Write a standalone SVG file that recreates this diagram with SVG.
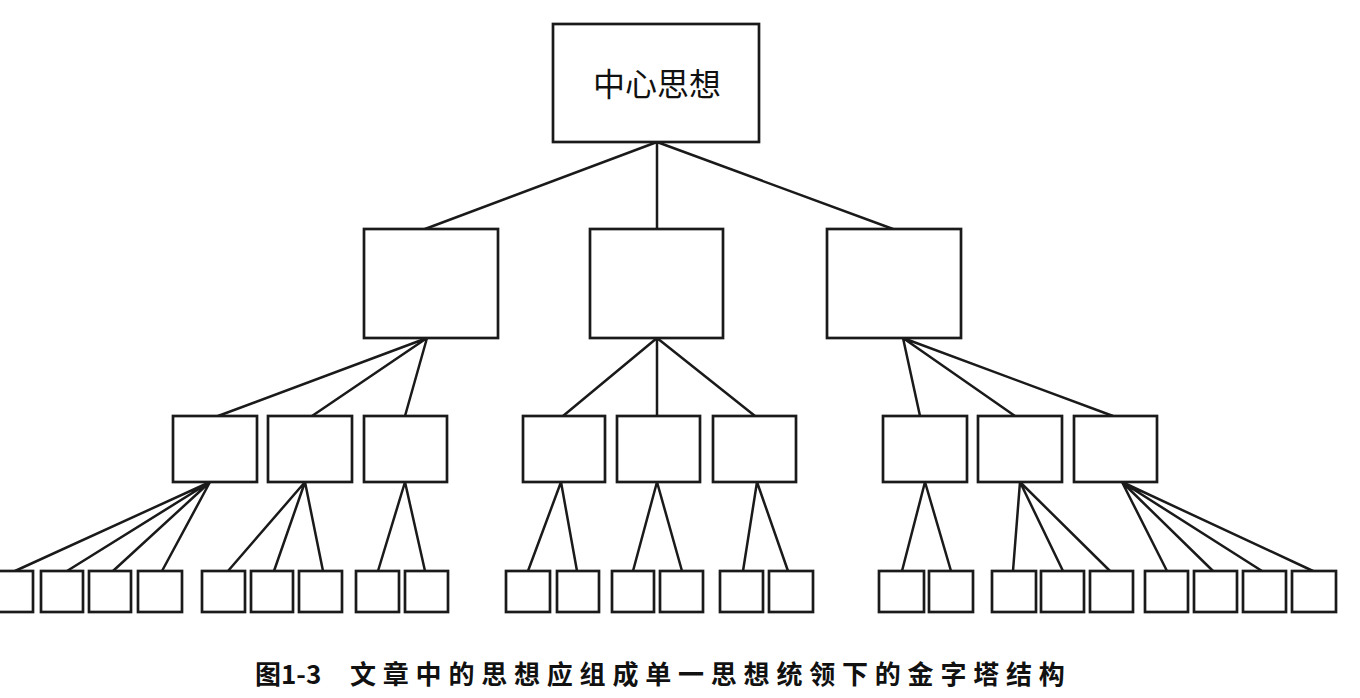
<svg xmlns="http://www.w3.org/2000/svg" width="1360" height="698" viewBox="0 0 1360 698">
<style>
.box{fill:#fff;stroke:#1a1a1a;stroke-width:2.7}
.ln{stroke:#1a1a1a;stroke-width:2.5;fill:none;stroke-linecap:round}
.t{font-family:"Noto Sans CJK SC","Noto Sans",sans-serif;fill:#111}
</style>
<rect width="1360" height="698" fill="#fff"/>
<g id="connectors" class="ln">
<path d="M657 142L425 229M657 142L657 229M657 142L893 229"/>
<path d="M427 338L218 416M427 338L312 416M427 338L405 416"/>
<path d="M657 338L563 416M657 338L657 416M657 338L755 416"/>
<path d="M903 338L920 416M903 338L1015 416M903 338L1113 416"/>
<path d="M210 482L15 571M210 482L67 571M210 482L113 571M210 482L162 571"/>
<path d="M305 482L228 571M305 482L274 571M305 482L323 571"/>
<path d="M405 482L378 571M405 482L425 571"/>
<path d="M561 482L528 571M561 482L577 571"/>
<path d="M657 482L633 571M657 482L682 571"/>
<path d="M757 482L743 571M757 482L788 571"/>
<path d="M925 482L902 571M925 482L951 571"/>
<path d="M1020 482L1013 571M1020 482L1063 571M1020 482L1110 571"/>
<path d="M1122 482L1167 571M1122 482L1213 571M1122 482L1262 571M1122 482L1313 571"/>
</g>
<g id="root"><rect class="box" x="553" y="24" width="206" height="118"/><text class="t" x="657" y="82" font-size="32" text-anchor="middle" dominant-baseline="central">中心思想</text></g>
<g id="m1"><rect class="box" x="364" y="229" width="134" height="109"/></g>
<g id="m2"><rect class="box" x="590" y="229" width="133" height="109"/></g>
<g id="m3"><rect class="box" x="827" y="229" width="134" height="109"/></g>
<g id="s1"><rect class="box" x="173" y="416" width="84" height="66"/></g>
<g id="s2"><rect class="box" x="268" y="416" width="84" height="66"/></g>
<g id="s3"><rect class="box" x="364" y="416" width="83" height="66"/></g>
<g id="s4"><rect class="box" x="523" y="416" width="82" height="66"/></g>
<g id="s5"><rect class="box" x="617" y="416" width="83" height="66"/></g>
<g id="s6"><rect class="box" x="713" y="416" width="83" height="66"/></g>
<g id="s7"><rect class="box" x="883" y="416" width="84" height="66"/></g>
<g id="s8"><rect class="box" x="978" y="416" width="84" height="66"/></g>
<g id="s9"><rect class="box" x="1074" y="416" width="83" height="66"/></g>
<g id="b1"><rect class="box" x="-2" y="571" width="35" height="41"/></g>
<g id="b2"><rect class="box" x="41" y="571" width="42" height="41"/></g>
<g id="b3"><rect class="box" x="89" y="571" width="42" height="41"/></g>
<g id="b4"><rect class="box" x="138" y="571" width="44" height="41"/></g>
<g id="b5"><rect class="box" x="202" y="571" width="43" height="41"/></g>
<g id="b6"><rect class="box" x="251" y="571" width="42" height="41"/></g>
<g id="b7"><rect class="box" x="299" y="571" width="43" height="41"/></g>
<g id="b8"><rect class="box" x="356" y="571" width="43" height="41"/></g>
<g id="b9"><rect class="box" x="405" y="571" width="43" height="41"/></g>
<g id="b10"><rect class="box" x="506" y="571" width="44" height="41"/></g>
<g id="b11"><rect class="box" x="557" y="571" width="42" height="41"/></g>
<g id="b12"><rect class="box" x="612" y="571" width="42" height="41"/></g>
<g id="b13"><rect class="box" x="660" y="571" width="43" height="41"/></g>
<g id="b14"><rect class="box" x="720" y="571" width="43" height="41"/></g>
<g id="b15"><rect class="box" x="769" y="571" width="44" height="41"/></g>
<g id="b16"><rect class="box" x="879" y="571" width="45" height="41"/></g>
<g id="b17"><rect class="box" x="929" y="571" width="44" height="41"/></g>
<g id="b18"><rect class="box" x="992" y="571" width="44" height="41"/></g>
<g id="b19"><rect class="box" x="1041" y="571" width="43" height="41"/></g>
<g id="b20"><rect class="box" x="1090" y="571" width="43" height="41"/></g>
<g id="b21"><rect class="box" x="1145" y="571" width="43" height="41"/></g>
<g id="b22"><rect class="box" x="1194" y="571" width="43" height="41"/></g>
<g id="b23"><rect class="box" x="1243" y="571" width="43" height="41"/></g>
<g id="b24"><rect class="box" x="1292" y="571" width="44" height="41"/></g>
<g id="caption"><text class="t" y="684" font-size="26" font-weight="bold"><tspan x="255">图1-3 </tspan><tspan x="350" letter-spacing="6.8">文章中的思想应组成单一思想统领下的金字塔结构</tspan></text></g>
</svg>
